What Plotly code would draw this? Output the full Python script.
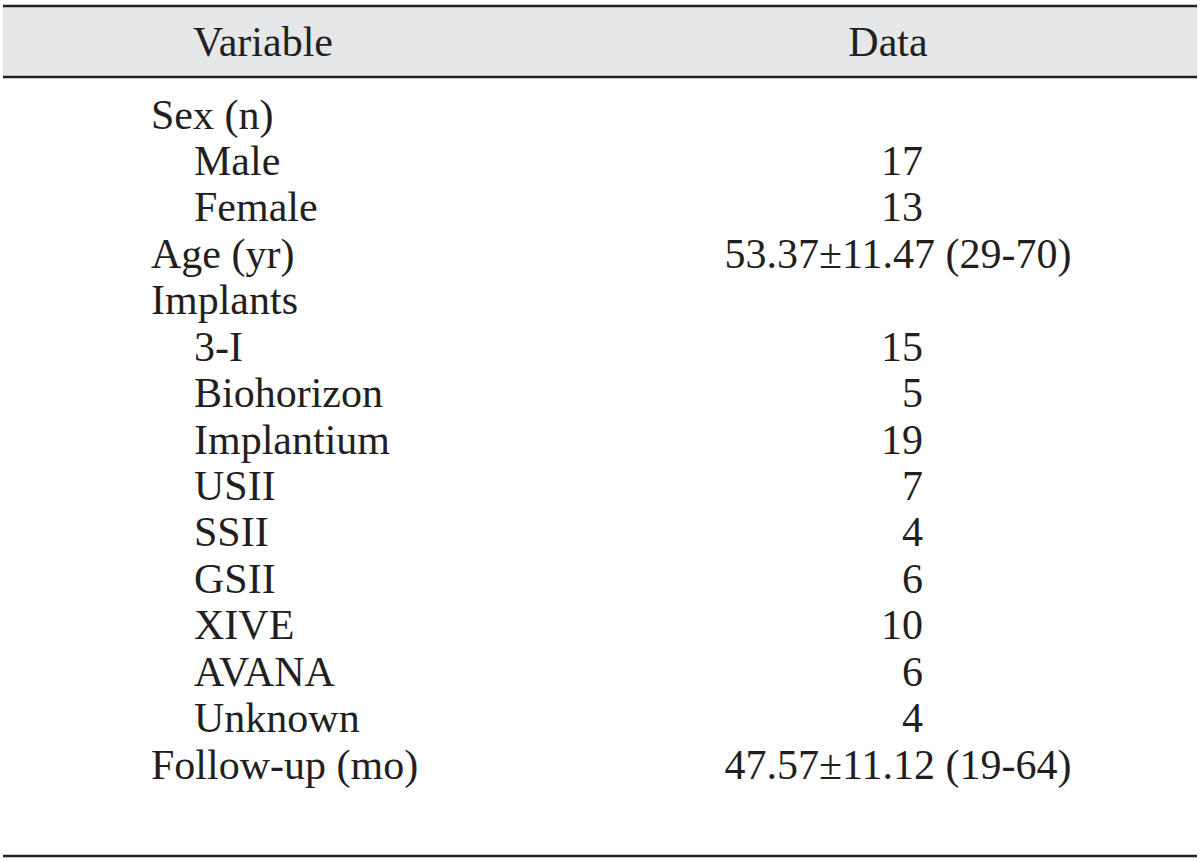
import plotly.graph_objects as go

header = ["Variable", "Data"]
variables = ["Sex (n)", "Male", "Female", "Age (yr)", "Implants", "3-I", "Biohorizon",
             "Implantium", "USII", "SSII", "GSII", "XIVE", "AVANA", "Unknown", "Follow-up (mo)"]
indent = [0, 1, 1, 0, 0, 1, 1, 1, 1, 1, 1, 1, 1, 1, 0]
data_vals = ["", "17", "13", "53.37±11.47 (29-70)", "", "15", "5", "19", "7", "4", "6", "10", "6", "4",
             "47.57±11.12 (19-64)"]

W, H = 1200, 861
FONT = dict(family="Liberation Serif, Times New Roman, serif", size=42, color="#231f20")
row0, step = 118, 46.43
ys = [row0 + i * step for i in range(len(variables))]

fig = go.Figure()
fig.add_shape(type="rect", x0=3, x1=1197, y0=7, y1=77, fillcolor="#e6e7e8", line_width=0, layer="below")
for y in (6, 77, 856):
    fig.add_shape(type="line", x0=3, x1=1197, y0=y, y1=y, line=dict(color="#231f20", width=2.5))
fig.add_trace(go.Scatter(x=[263, 888], y=[45, 45], mode="text", text=header,
                         textposition="middle center", textfont=FONT, hoverinfo="skip"))
fig.add_trace(go.Scatter(x=[151 + 43 * k for k in indent], y=ys, mode="text", text=variables,
                         textposition="middle right", textfont=FONT, hoverinfo="skip"))
short_x, short_y, short_t = [], [], []
long_x, long_y, long_t = [], [], []
for y, v in zip(ys, data_vals):
    if not v:
        continue
    if len(v) > 3:
        long_x.append(898); long_y.append(y); long_t.append(v)
    else:
        short_x.append(923); short_y.append(y); short_t.append(v)
fig.add_trace(go.Scatter(x=short_x, y=short_y, mode="text", text=short_t,
                         textposition="middle left", textfont=FONT, hoverinfo="skip"))
fig.add_trace(go.Scatter(x=long_x, y=long_y, mode="text", text=long_t,
                         textposition="middle center", textfont=FONT, hoverinfo="skip"))

fig.update_layout(width=W, height=H, margin=dict(l=0, r=0, t=0, b=0),
                  paper_bgcolor="white", plot_bgcolor="white", showlegend=False,
                  xaxis=dict(range=[0, W], visible=False, fixedrange=True),
                  yaxis=dict(range=[H, 0], visible=False, fixedrange=True))
fig.write_html("out.html", config={"displayModeBar": False},
               post_script="document.body.style.margin='0';document.body.style.overflow='hidden';")
